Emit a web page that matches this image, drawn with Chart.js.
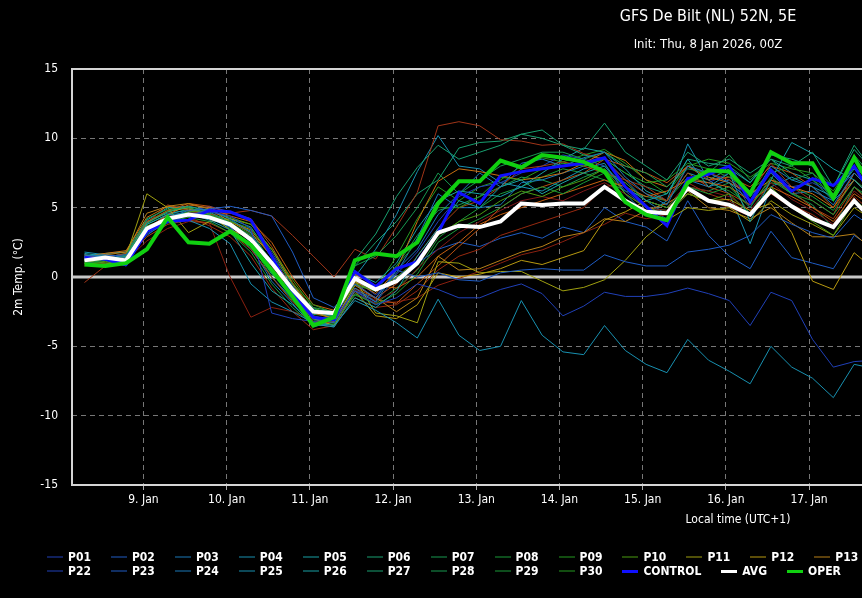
<!DOCTYPE html>
<html>
<head>
<meta charset="utf-8">
<title>GFS De Bilt ensemble</title>
<script src="https://cdn.jsdelivr.net/npm/chart.js@4.4.1/dist/chart.umd.min.js"></script>
<style>
  html, body { margin: 0; padding: 0; background: #000; overflow: hidden; }
  #wrap { position: relative; width: 1416px; height: 598px; }
  #wrap canvas { position: absolute; left: 0; top: 0; }
  .txt { position: absolute; left: 0; width: 1416px; text-align: center; color: #fff;
         font-family: 'Liberation Sans Narrow', 'DejaVu Sans Condensed', 'Arial Narrow', sans-serif; }
  #title { top: 6px; font-size: 16px; line-height: 20px; }
  #subtitle { top: 36px; font-size: 13px; line-height: 16px; }
  .row { position: absolute; left: 47px; display: flex; white-space: nowrap; }
  .item { display: flex; align-items: center; margin-right: 20px; color: #fff; height: 14px;
          font: bold 12px 'Liberation Sans Narrow', 'DejaVu Sans Condensed', 'Arial Narrow', sans-serif; }
  .swatch { width: 16px; margin-right: 5px; }
</style>
</head>
<body>
<div id="wrap">
  <canvas id="ens" width="1416" height="598"></canvas>
  <div id="title" class="txt">GFS De Bilt (NL) 52N, 5E</div>
  <div id="subtitle" class="txt">Init: Thu, 8 Jan 2026, 00Z</div>
  <div id="row1" class="row" style="top:550px"></div>
  <div id="row2" class="row" style="top:564px"></div>
</div>
<script>
// hours since 8 Jan 00:00 local time (UTC+1), 6-hourly steps
const HOURS = [7,13,19,25,31,37,43,49,55,61,67,73,79,85,91,97,103,109,115,121,127,133,139,145,151,157,163,169,175,181,187,193,199,205,211,217,223,229,235];

const DAY_TICKS = [24,48,72,96,120,144,168,192,216,240,264,288,312,336,360,384];
const DAY_LABELS = ['9. Jan','10. Jan','11. Jan','12. Jan','13. Jan','14. Jan','15. Jan','16. Jan',
                    '17. Jan','18. Jan','19. Jan','20. Jan','21. Jan','22. Jan','23. Jan','24. Jan'];

// 2m temperature (°C)
const OPER    = [0.9,0.8,1.0,2.0,4.3,2.5,2.4,3.3,2.3,0.5,-1.4,-3.5,-2.9,1.2,1.7,1.5,2.5,5.3,6.9,6.9,8.4,7.9,8.8,8.6,8.3,7.6,5.4,4.5,4.1,6.8,7.7,7.6,6.0,9.0,8.2,8.2,5.7,8.6,6.0];
const AVG     = [1.2,1.4,1.2,3.5,4.2,4.5,4.3,3.8,2.7,1.0,-0.9,-2.5,-2.6,-0.1,-0.9,-0.3,1.0,3.2,3.7,3.6,4.0,5.3,5.2,5.3,5.3,6.5,5.5,4.7,4.6,6.4,5.5,5.2,4.5,6.2,5.1,4.2,3.6,5.5,3.9];
const CONTROL = [1.4,1.3,0.9,3.3,4.0,4.1,4.8,4.7,4.1,1.5,-1.2,-2.9,-3.1,0.4,-0.7,0.6,1.1,3.2,6.1,5.3,7.3,7.6,7.8,8.0,8.2,8.6,6.5,5.1,3.7,7.1,7.4,8.0,5.4,7.7,6.2,7.1,6.6,8.0,5.5];

const P01 = [1.5,1.2,0.8,3.2,4.0,4.5,4.7,4.4,3.5,-2.6,-3.0,-3.2,-3.1,-1.0,-2.0,-1.5,-0.5,-0.9,-1.5,-1.5,-0.9,-0.5,-1.2,-2.8,-2.1,-1.1,-1.4,-1.4,-1.2,-0.8,-1.2,-1.7,-3.5,-1.1,-1.7,-4.5,-6.5,-6.1,-6.0];
const P02 = [1.3,1.5,1.6,3.0,4.1,4.4,4.9,5.1,4.8,4.4,1.8,-1.5,-2.2,-0.5,-1.5,0.5,0.0,0.3,-0.2,-0.3,0.3,0.5,0.6,0.5,0.5,1.6,1.1,0.8,0.8,1.8,2.0,2.3,3.0,4.5,3.8,3.2,2.8,4.5,3.5];
const P03 = [1.5,1.6,1.4,3.6,4.3,4.8,4.9,4.2,3.2,0.5,-1.5,-3.0,-3.3,-0.8,-1.8,0.5,2.0,4.5,6.0,7.5,6.5,8.2,8.5,8.0,8.6,9.0,7.2,6.0,5.2,8.0,7.5,6.8,5.5,8.0,7.0,6.5,5.2,7.5,6.0];
const P04 = [1.6,1.4,1.0,3.6,4.3,4.1,3.5,2.4,-0.5,-1.8,-2.5,-3.3,-3.5,-1.7,-2.4,-3.3,-4.4,-1.6,-4.2,-5.3,-5.0,-1.7,-4.2,-5.4,-5.6,-3.5,-5.3,-6.3,-6.9,-4.5,-6.0,-6.8,-7.7,-5.0,-6.5,-7.3,-8.7,-6.3,-6.6];
const P05 = [1.7,1.5,1.2,3.8,4.5,4.6,4.1,3.4,1.0,-1.0,-2.0,-3.4,-3.6,-1.5,-2.2,-1.0,1.5,3.5,5.5,5.0,6.5,7.0,6.0,6.8,7.5,8.0,6.5,5.5,6.0,8.5,6.5,7.5,4.0,7.0,9.7,8.9,7.8,7.0,5.5];
const P06 = [1.2,1.3,1.5,3.9,4.7,5.1,4.7,3.9,2.5,0.2,-1.0,-2.5,-2.8,1.2,3.1,5.8,7.9,9.5,8.5,9.0,9.5,10.3,10.6,9.5,9.2,11.1,9.0,8.0,7.0,9.0,8.0,8.5,7.5,8.5,8.0,9.0,6.5,9.5,7.5];
const P07 = [1.0,1.2,1.6,4.2,4.9,5.0,4.5,3.8,3.0,1.2,-0.8,-2.2,-2.5,0.8,1.5,3.0,5.0,7.5,6.0,7.0,8.0,8.5,9.0,9.0,8.5,9.0,8.0,7.5,6.5,7.8,7.5,8.8,7.0,8.5,7.0,7.5,5.5,8.8,7.0];
const P08 = [1.4,1.2,0.8,3.2,4.0,4.3,4.0,3.2,1.8,-0.5,-2.2,-3.5,-3.4,-1.2,-2.0,-1.2,0.2,2.5,3.5,4.2,5.0,6.0,6.5,6.0,6.8,7.5,6.8,5.5,5.0,6.5,6.0,6.5,5.0,7.2,6.0,5.5,4.5,6.5,5.5];
const P09 = [1.1,1.0,1.1,3.4,3.9,4.5,4.5,4.0,3.5,1.6,-0.5,-2.0,-2.6,-0.2,-0.8,0.8,2.5,5.0,5.0,5.8,7.2,7.0,7.8,8.2,8.0,8.5,7.5,6.8,7.0,8.2,7.8,7.2,6.2,7.5,8.0,7.0,6.0,8.0,6.5];
const P10 = [1.3,1.1,1.4,3.7,4.2,4.7,4.8,4.3,3.8,2.0,-0.2,-2.2,-2.9,-0.5,-1.0,0.0,1.2,3.0,4.0,4.5,5.5,6.2,5.8,6.5,7.0,7.8,6.0,5.0,4.5,6.0,5.5,6.0,4.5,6.5,5.0,4.0,3.0,5.5,4.5];
const P11 = [1.0,0.9,1.5,6.0,5.0,3.2,4.0,4.2,3.8,2.0,-0.5,-2.5,-3.0,-0.2,-2.6,-2.8,-3.3,1.1,1.0,0.3,0.4,0.4,-0.3,-1.0,-0.75,-0.2,1.2,2.9,4.1,5.0,4.8,5.0,4.0,5.5,4.5,3.8,3.0,5.0,4.0];
const P12 = [1.2,1.0,0.9,3.9,4.7,5.0,4.5,3.4,2.8,1.0,-1.5,-3.0,-3.5,-1.0,-2.8,-3.0,-2.0,0.3,0.0,0.2,0.6,1.2,0.9,1.4,1.9,4.1,4.7,5.5,5.0,6.0,5.5,5.6,4.8,5.3,3.2,-0.3,-0.9,1.75,0.5];
const P13 = [1.4,1.6,1.8,4.6,5.1,5.3,4.9,4.0,3.2,1.5,-1.0,-2.8,-3.2,-0.6,-1.5,-2.5,-1.5,1.5,0.5,0.6,1.2,1.8,2.2,2.9,3.2,4.2,4.0,4.8,5.3,6.2,5.0,4.8,4.2,5.0,3.9,2.9,2.9,3.1,1.8];
const P14 = [1.5,1.7,1.9,4.3,5.1,4.9,4.5,4.0,3.4,1.5,-0.8,-2.6,-3.0,-0.3,-1.2,0.5,4.0,6.9,7.8,7.6,7.3,7.0,7.2,7.5,8.2,9.0,8.4,7.0,6.5,8.0,7.2,6.8,6.0,7.0,6.5,6.0,5.0,7.0,5.5];
const P15 = [1.6,1.3,1.0,3.5,4.5,5.2,5.0,4.4,4.0,2.5,0.0,-2.0,-2.4,0.2,-0.6,-0.8,0.0,1.5,2.5,3.8,4.5,5.0,5.5,6.0,6.5,7.0,6.5,5.8,6.2,7.0,6.8,6.5,5.5,6.5,5.8,5.0,4.0,6.0,5.0];
const P16 = [1.0,1.4,1.7,4.0,4.8,5.3,5.1,4.6,4.2,2.2,-0.4,-2.4,-2.7,-0.4,-1.6,-1.9,-0.5,0.8,2.2,3.5,5.0,6.0,6.5,7.0,7.5,8.5,8.0,7.5,6.8,8.0,7.0,7.2,6.5,8.0,7.5,6.5,5.0,7.5,6.0];
const P17 = [1.3,1.5,1.3,2.9,3.8,4.1,3.9,3.2,2.0,0.0,-1.8,-3.2,-3.3,-0.8,-1.5,-0.5,1.5,3.5,5.0,5.5,6.5,7.8,8.0,8.3,8.0,7.5,7.0,6.0,5.5,7.5,6.5,6.0,5.2,7.0,6.2,5.0,4.2,6.5,5.0];
const P18 = [-0.4,0.8,1.2,3.9,5.2,4.8,4.5,4.6,4.8,4.4,3.0,1.5,0.0,2.0,1.3,3.6,6.1,10.9,11.2,10.9,9.9,9.8,9.5,9.6,8.9,8.5,7.0,6.5,5.5,8.0,7.5,7.0,6.0,8.2,6.5,5.5,4.5,7.5,6.0];
const P19 = [1.2,1.6,1.5,3.4,4.5,4.3,3.7,2.9,1.5,-0.8,-2.5,-3.8,-3.5,-1.5,-2.2,-2.0,-1.0,0.5,1.5,2.0,3.0,3.5,4.0,4.5,5.0,6.5,6.8,5.5,5.0,6.8,6.0,5.5,4.5,6.0,5.2,4.5,3.5,5.8,4.5];
const P20 = [0.8,1.0,1.2,2.6,3.5,4.0,3.9,0.0,-2.9,-2.2,-2.5,-3.0,-3.2,-1.2,-1.9,-1.8,-1.5,-0.6,-0.1,0.4,1.0,1.6,1.95,2.55,3.2,3.8,4.6,4.2,4.5,6.0,5.5,5.0,4.4,6.0,5.0,4.2,3.5,5.5,4.2];
const P21 = [0.9,1.1,1.3,3.3,4.1,4.6,4.7,3.8,3.0,0.8,-1.6,-3.0,-3.1,-0.9,-1.7,-1.0,0.6,2.0,3.2,4.0,4.8,5.5,5.8,5.5,6.2,6.8,6.0,5.0,4.8,6.5,6.2,5.8,4.8,6.8,5.6,4.8,3.8,6.2,5.0];
const P22 = [1.6,1.4,1.2,3.1,3.9,4.7,5.1,4.7,4.2,1.8,-0.6,-2.6,-2.9,-0.2,-1.3,0.2,1.8,4.0,5.8,6.5,6.8,7.5,8.0,8.8,8.5,8.0,6.2,5.0,4.2,7.0,6.8,7.5,5.0,7.8,6.5,6.8,6.0,7.5,6.0];
const P23 = [1.2,1.3,1.0,3.3,4.2,4.6,4.4,3.6,2.0,0.0,-1.6,-3.4,-3.6,-1.0,-1.8,0.0,1.0,2.0,2.5,2.2,2.8,3.2,2.8,3.6,3.2,5.0,4.0,3.6,2.6,5.5,3.0,1.5,0.6,3.3,1.4,1.0,0.6,3.0,2.0];
const P24 = [1.4,1.3,1.0,3.3,4.4,4.5,4.2,3.6,2.2,-0.3,-1.9,-3.6,-3.2,-1.0,-1.5,0.3,2.8,6.0,5.0,5.0,5.2,6.8,7.0,7.5,8.0,8.5,7.0,5.5,4.5,7.0,6.5,7.0,5.8,7.5,6.0,6.2,5.5,7.0,5.5];
const P25 = [1.8,1.6,1.5,4.0,4.6,4.8,4.4,3.7,2.6,0.3,-1.3,-2.9,-3.0,0.0,2.0,4.5,7.6,10.2,8.0,7.8,6.8,6.5,6.2,7.0,7.8,8.2,6.0,4.5,5.5,9.6,7.0,6.0,2.4,6.5,7.2,6.5,5.8,7.8,6.2];
const P26 = [1.5,1.7,1.8,4.1,5.0,5.1,4.8,4.2,3.6,1.4,-0.7,-2.3,-2.6,0.3,-0.4,1.0,3.5,5.5,6.2,6.0,5.8,6.5,7.5,8.5,9.3,9.0,7.8,6.2,5.5,7.5,7.0,7.8,6.8,8.5,7.5,7.0,5.5,8.0,6.5];
const P27 = [1.1,1.4,1.7,3.8,4.5,4.9,4.6,4.1,3.3,1.0,-1.0,-2.7,-2.8,0.8,2.5,4.0,6.0,7.0,9.3,9.7,9.8,10.3,10.0,9.5,8.8,8.5,7.5,6.5,6.0,8.5,8.2,8.0,6.8,8.8,8.5,8.0,6.5,9.2,7.5];
const P28 = [1.2,1.2,1.2,3.5,4.3,4.7,4.5,3.9,2.9,0.6,-1.4,-3.1,-3.2,-0.6,-1.0,0.8,3.0,4.8,5.2,5.8,6.5,7.2,7.0,6.5,7.2,7.8,6.5,5.0,4.8,6.5,6.2,6.8,4.5,7.0,6.0,5.2,3.5,6.5,5.2];
const P29 = [1.5,1.3,1.1,3.4,4.2,4.6,4.3,3.5,2.4,0.0,-1.7,-3.3,-3.4,-1.3,-1.9,-0.8,0.5,2.8,4.0,5.0,6.0,6.5,7.2,7.8,7.5,7.0,6.2,5.8,5.5,7.2,6.8,6.2,5.2,6.8,6.5,5.8,4.8,7.0,5.8];
const P30 = [1.3,1.5,1.6,3.9,4.8,5.0,4.6,3.9,3.1,0.9,-1.1,-2.9,-3.0,-0.4,-0.9,1.5,4.2,6.5,5.5,6.5,7.0,8.0,8.6,8.3,8.8,9.2,8.2,7.0,6.0,8.0,8.5,8.2,7.2,8.2,7.8,7.5,6.2,8.5,7.0];

const MEMBERS = [P01,P02,P03,P04,P05,P06,P07,P08,P09,P10,P11,P12,P13,P14,P15,P16,P17,P18,P19,P20,P21,
                 P22,P23,P24,P25,P26,P27,P28,P29,P30];
const MEMBER_NAMES = MEMBERS.map((_, i) => 'P' + String(i + 1).padStart(2, '0'));

// member colours cycle every 21 members: blue -> teal -> green -> yellow -> orange -> red
const PALETTE = ['#2040b8','#1f5cc4','#1a78b8','#1890b0','#18a0a4','#18a070','#189a50','#1a9a38','#249a20','#4a9c10',
                 '#a0a010','#b89a10','#b88018','#c87010','#c86010','#b85010','#a84010','#a03518','#982a10','#8a2010','#801818'];

const FONT = "'Liberation Sans Narrow', 'DejaVu Sans Condensed', 'Arial Narrow', sans-serif";

function series(vals) {
    return HOURS.map((h, i) => ({ x: h, y: vals[i] }));
}

const datasets = MEMBERS.map((vals, k) => ({
    label: MEMBER_NAMES[k],
    data: series(vals),
    borderColor: PALETTE[k % 21],
    borderWidth: 1,
    order: 10
}));
datasets.push({ label: 'CONTROL', data: series(CONTROL), borderColor: '#1010ff', borderWidth: 3, order: 3 });
datasets.push({ label: 'AVG', data: series(AVG), borderColor: '#ffffff', borderWidth: 4, order: 2 });
datasets.push({ label: 'OPER', data: series(OPER), borderColor: '#10d010', borderWidth: 4, order: 1 });

// zero line under the data, frame round the plot area
const framePlugin = {
    id: 'frame',
    beforeDatasetsDraw(chart) {
        const { ctx, chartArea: a, scales: { y } } = chart;
        const y0 = y.getPixelForValue(0);
        ctx.save();
        ctx.strokeStyle = '#c8c8c8';
        ctx.lineWidth = 3;
        ctx.beginPath();
        ctx.moveTo(a.left, y0);
        ctx.lineTo(a.right, y0);
        ctx.stroke();
        ctx.restore();
    },
    afterDraw(chart) {
        const { ctx, chartArea: a } = chart;
        ctx.save();
        ctx.strokeStyle = '#d4d4d4';
        ctx.lineWidth = 2;
        ctx.strokeRect(a.left, a.top, a.right - a.left, a.bottom - a.top);
        ctx.restore();
    }
};

const ctx = document.getElementById('ens').getContext('2d');
const chart = new Chart(ctx, {
    type: 'line',
    data: { datasets: datasets },
    options: {
        responsive: false,
        animation: false,
        devicePixelRatio: 1,
        layout: { padding: { top: 69, right: 12, bottom: 67, left: 0 } },
        elements: {
            line: { tension: 0, fill: false },
            point: { radius: 0 }
        },
        plugins: {
            legend: { display: false },
            tooltip: { enabled: false },
            title: { display: false }
        },
        scales: {
            x: {
                type: 'linear',
                min: 3.4,
                max: 387.6,
                afterFit(scale) { scale.height = 46; },
                afterBuildTicks(scale) { scale.ticks = DAY_TICKS.map(v => ({ value: v })); },
                ticks: {
                    color: '#ffffff',
                    font: { family: FONT, size: 12 },
                    padding: 3,
                    maxRotation: 0,
                    autoSkip: false,
                    callback: (v) => DAY_LABELS[DAY_TICKS.indexOf(v)]
                },
                grid: { color: '#777777', lineWidth: 1, drawTicks: true, tickLength: 5, tickColor: '#aaaaaa' },
                border: { display: false, dash: [5, 4] },
                title: {
                    display: true,
                    text: 'Local time (UTC+1)',
                    color: '#ffffff',
                    font: { family: FONT, size: 12 },
                    padding: { top: 0, bottom: 4 }
                }
            },
            y: {
                min: -15,
                max: 15,
                afterFit(scale) { scale.width = 72; },
                ticks: {
                    stepSize: 5,
                    color: '#ffffff',
                    font: { family: FONT, size: 12 },
                    padding: 14
                },
                grid: { color: '#777777', lineWidth: 1, drawTicks: false },
                border: { display: false, dash: [5, 4] },
                title: {
                    display: true,
                    text: '2m Temp. (°C)',
                    color: '#ffffff',
                    font: { family: FONT, size: 12 },
                    padding: { top: 12, bottom: 0 }
                }
            }
        }
    },
    plugins: [framePlugin]
});

// legend: members first row up to P21, the rest on the second row
const legendItems = datasets.map(d => ({ label: d.label, color: d.borderColor, width: d.borderWidth }));
legendItems.forEach((it, i) => {
    const item = document.createElement('div');
    item.className = 'item';
    const sw = document.createElement('span');
    sw.className = 'swatch';
    sw.style.height = (it.width > 1 ? 3 : 2) + 'px';
    sw.style.background = it.color;
    if (it.width === 1) sw.style.opacity = '0.5';
    item.appendChild(sw);
    item.appendChild(document.createTextNode(it.label));
    document.getElementById(i < 21 ? 'row1' : 'row2').appendChild(item);
});
</script>
</body>
</html>
